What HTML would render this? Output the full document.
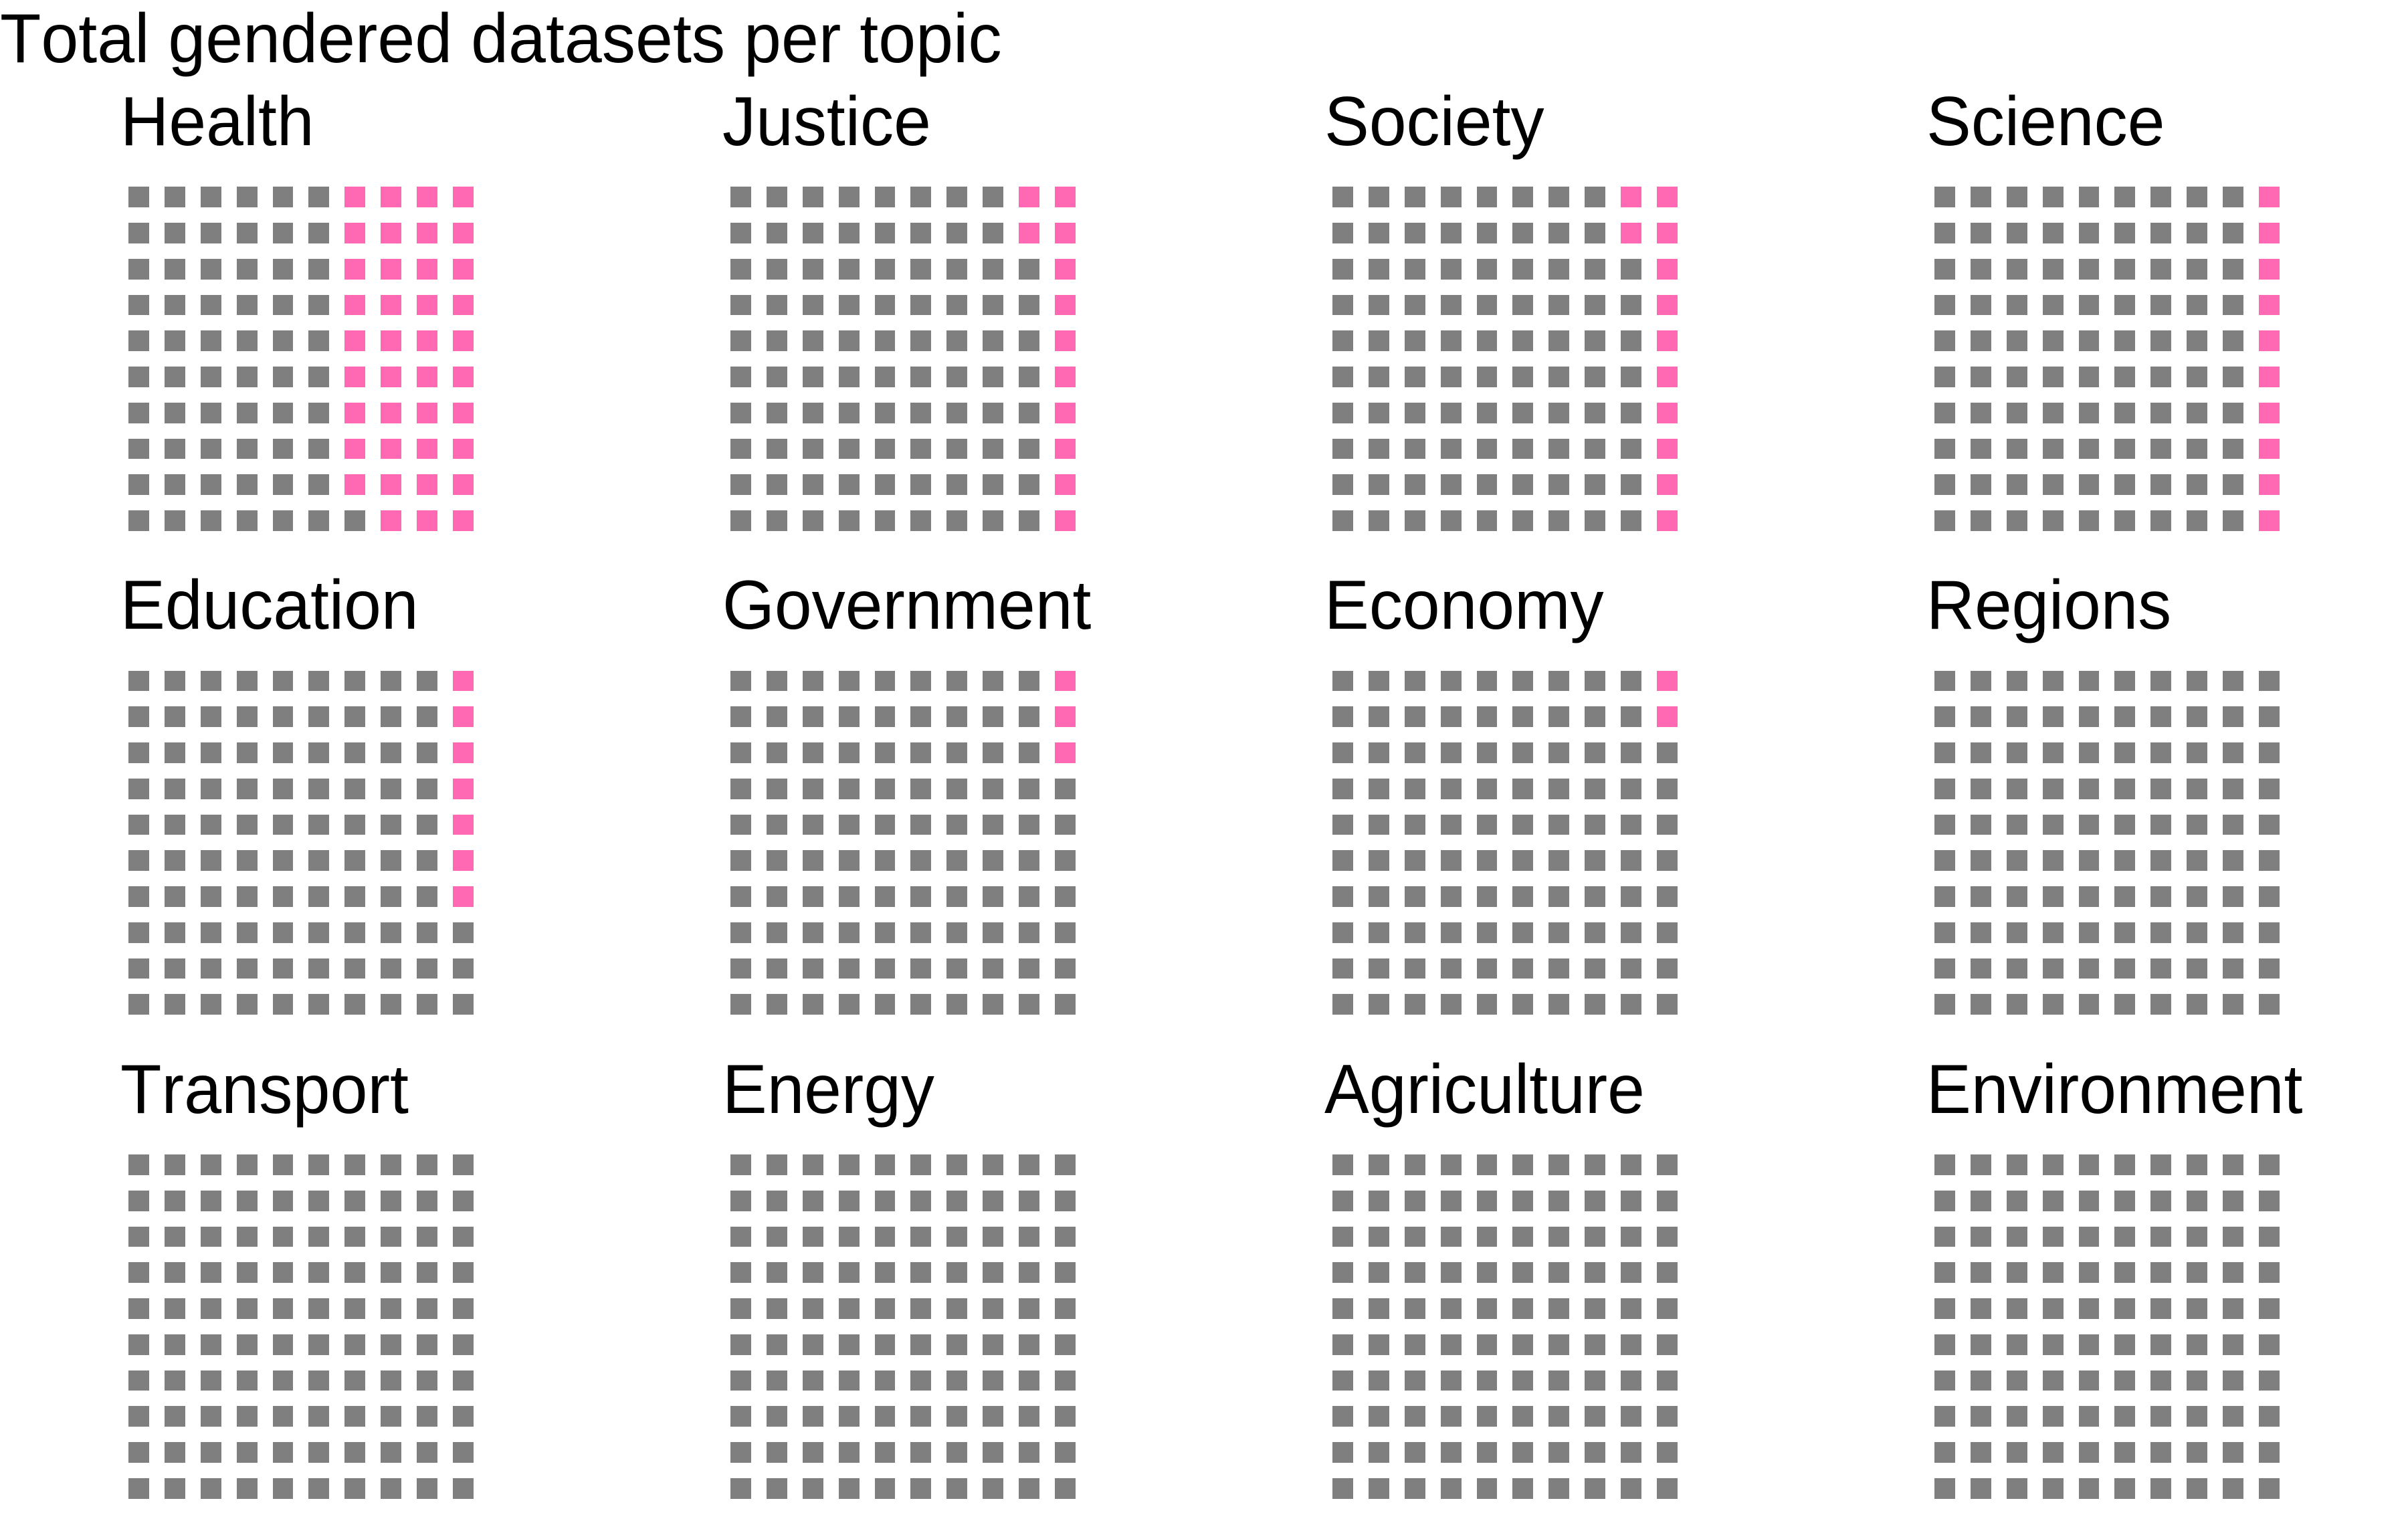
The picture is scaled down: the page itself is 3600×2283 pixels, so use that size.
<!DOCTYPE html>
<html lang="en">
<head>
<meta charset="utf-8">
<title>Total gendered datasets per topic</title>
<style>
html,body{margin:0;padding:0;background:#ffffff;}
svg{display:block;}
text{font-family:"Liberation Sans",Arial,sans-serif;font-size:104.17px;fill:#000000;font-kerning:none;}
</style>
</head>
<body>
<svg id="chart" xmlns="http://www.w3.org/2000/svg" width="3600" height="2283" viewBox="0 0 3600 2283">
<rect x="0" y="0" width="3600" height="2283" fill="#ffffff"/>
<text transform="translate(0,93) scale(0.965,1)">Total gendered datasets per topic</text>
<text transform="translate(180,217) scale(0.962,1)">Health</text>
<text transform="translate(1080,217) scale(0.962,1)">Justice</text>
<text transform="translate(1980,217) scale(0.962,1)">Society</text>
<text transform="translate(2880,217) scale(0.962,1)">Science</text>
<text transform="translate(180,940) scale(0.962,1)">Education</text>
<text transform="translate(1080,940) scale(0.962,1)">Government</text>
<text transform="translate(1980,940) scale(0.962,1)">Economy</text>
<text transform="translate(2880,940) scale(0.958,1)">Regions</text>
<text transform="translate(180,1664) scale(0.967,1)">Transport</text>
<text transform="translate(1080,1664) scale(0.96,1)">Energy</text>
<text transform="translate(1980,1664) scale(0.962,1)">Agriculture</text>
<text transform="translate(2880,1664) scale(0.962,1)">Environment</text>
</svg>
<script>
const topics = ["health","justice","society","science","education","government","economy","regions","transport","energy","agriculture","environment"];
const genderedCounts = [39,12,12,10,7,3,2,0,0,0,0,0];
const totalPerPanel = [100,100,100,100,100,100,100,100,100,100,100,100];

const NS = "http://www.w3.org/2000/svg";
const GRID = 10;
const svg = document.getElementById("chart");

function panelX(i){ return 900 * (i % 4); }
function panelY(i){ return 723.35 * Math.floor(i / 4); }
function cellLeft(c){ return 192.4 + 53.9 * c; }
function cellTop(r){ return 279.85 + 53.75 * r; }
const CELL_W = 30.95;
const CELL_H = 30.7;

topics.forEach(function(topic, i){
  const g = document.createElementNS(NS, "g");
  
  
  g.setAttribute('aria-label', topic);
  const total = totalPerPanel[i];
  const pink = genderedCounts[i];
  for (let n = 0; n < total; n++) {
    const c = GRID - 1 - Math.floor(n / GRID);
    const r = n % GRID;
    const x0 = Math.floor(panelX(i) + cellLeft(c));
    const x1 = Math.floor(panelX(i) + cellLeft(c) + CELL_W);
    const y0 = Math.floor(panelY(i) + cellTop(r));
    const y1 = Math.floor(panelY(i) + cellTop(r) + CELL_H);
    const rect = document.createElementNS(NS, "rect");
    rect.setAttribute("x", x0);
    rect.setAttribute("y", y0);
    rect.setAttribute("width", x1 - x0);
    rect.setAttribute("height", y1 - y0);
    rect.setAttribute("shape-rendering", "crispEdges");
    rect.setAttribute("fill", n < pink ? "#ff69b4" : "#7f7f7f");
    
    
    g.appendChild(rect);
  }
  svg.appendChild(g);
});
</script>
</body>
</html>
